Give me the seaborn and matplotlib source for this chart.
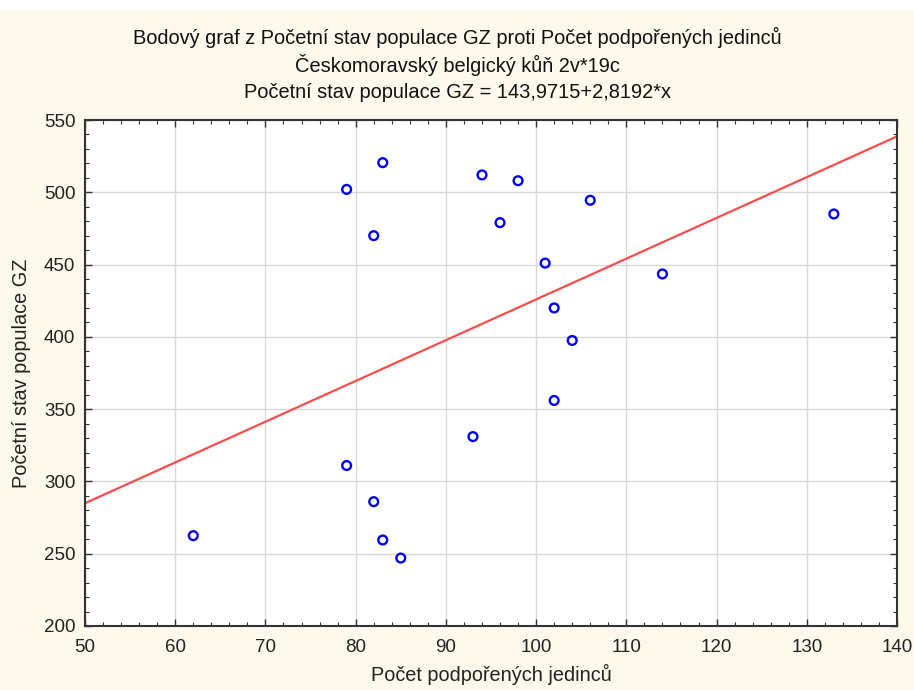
import matplotlib
matplotlib.use("Agg")
import matplotlib.pyplot as plt
from matplotlib.ticker import MultipleLocator
from matplotlib.patches import Rectangle
import seaborn as sns
import numpy as np
import pandas as pd

# Data
pocet_jedincu = [79, 83, 82, 94, 96, 98, 106, 101, 102, 104, 114, 133, 102, 93, 79, 82, 83, 85, 62]
pocetni_stav = [502, 520.5, 470, 512, 479, 508, 494.5, 451, 420, 397.5, 443.5, 485, 356, 331, 311, 286, 259.5, 247, 262.5]
intercept = 143.9715
slope = 2.8192
x_range = [50, 140]

title_lines = [
    "Bodový graf z Početní stav populace GZ proti Počet podpořených jedinců",
    "Českomoravský belgický kůň 2v*19c",
    "Početní stav populace GZ = 143,9715+2,8192*x",
]
xlabel = "Počet podpořených jedinců"
ylabel = "Početní stav populace GZ"

sns.set_theme(style="white")
plt.rcParams['font.family'] = ['Liberation Sans', 'DejaVu Sans']

bg = "#fdf8ec"
fig = plt.figure(figsize=(9.14, 6.9), dpi=100, facecolor=bg)
fig.patches.append(Rectangle((0, 1 - 10/690), 1, 10/690, transform=fig.transFigure,
                             facecolor="white", edgecolor="none", zorder=-1))
ax = fig.add_axes([85/914, 1 - 626/690, 812/914, 506/690])
ax.set_facecolor("white")

df = pd.DataFrame({"x": pocet_jedincu, "y": pocetni_stav})
line_df = pd.DataFrame({"x": x_range, "y": [intercept + slope * v for v in x_range]})

sns.lineplot(data=line_df, x="x", y="y", ax=ax, color="#ff4b4b", linewidth=1.6, zorder=2)
sns.scatterplot(data=df, x="x", y="y", ax=ax, marker="o", s=40,
                facecolors="none", edgecolor="#0000ff", linewidth=1.7, zorder=3)

ax.set_xlim(50, 140)
ax.set_ylim(200, 550)
ax.xaxis.set_major_locator(MultipleLocator(10))
ax.xaxis.set_minor_locator(MultipleLocator(2))
ax.yaxis.set_major_locator(MultipleLocator(50))
ax.yaxis.set_minor_locator(MultipleLocator(10))
ax.grid(True, which="major", color="#d8d8d8", linewidth=1.0)
ax.set_axisbelow(True)
ax.tick_params(which="both", direction="in", top=True, right=True, bottom=True, left=True,
               color="#333333", labelsize=13.5, labelcolor="#222222")
ax.tick_params(which="major", length=5, width=1.0)
ax.tick_params(axis="y", which="major", pad=7)
ax.tick_params(axis="x", which="major", pad=9)
ax.tick_params(which="minor", length=3, width=0.8)
for s in ax.spines.values():
    s.set_color("#333333")
    s.set_linewidth(1.5)

ax.set_xlabel(xlabel, fontsize=14.3, color="#222222", labelpad=6)
ax.set_ylabel(ylabel, fontsize=14.3, color="#222222", labelpad=9)

for i, t in enumerate(title_lines):
    fig.text(0.5, 1 - (37 + i * 28) / 690, t, ha="center", va="center", fontsize=14.4, color="#111111")

fig.savefig("out.png", dpi=100, facecolor=bg)
